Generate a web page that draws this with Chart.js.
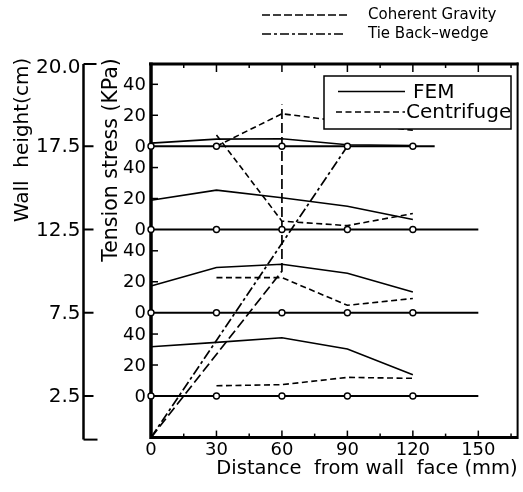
<!DOCTYPE html>
<html><head><meta charset="utf-8">
<script src="https://cdn.jsdelivr.net/npm/chart.js@4.4.1/dist/chart.umd.min.js"></script>
<style>html,body{margin:0;padding:0;background:#fff;overflow:hidden;}</style>
</head><body>
<canvas id="c" width="523" height="492"></canvas>
<script>
// ---- data ----
const distance = [0, 30, 60, 90, 120];                 // mm, FEM points / zero-line circles
const centrifugeDistance = [30, 60, 90, 120];          // mm
const panelWallHeight = [17.5, 12.5, 7.5, 2.5];        // cm, level of each stress panel's zero line
const zeroLineEnd = [130, 150, 150, 150];              // mm, where each zero line stops
const femAt175 = [2.0, 4.6, 4.8, 1.0, 0.5];            // kPa
const femAt125 = [18.9, 25.4, 20.5, 15.0, 6.5];
const femAt75  = [17.3, 29.2, 31.3, 25.5, 13.4];
const femAt25  = [31.8, 34.6, 37.6, 30.3, 13.7];
const centrifugeAt175 = [0.0, 21.0, 15.6, 10.3];
const centrifugeAt125 = [61.0, 5.4, 2.5, 10.3];
const centrifugeAt75  = [22.7, 22.7, 4.8, 9.2];
const centrifugeAt25  = [6.6, 7.3, 12.0, 11.4];
const coherentDistance = [0, 60, 60];                  // mm
const coherentHeight   = [0, 10, 20];                  // cm
const tiebackDistance  = [0, 90];
const tiebackHeight    = [0, 17.5];
const distanceTicks = [0, 30, 60, 90, 120, 150];
const distanceMinorTicks = [15, 45, 75, 105, 135, 165];
const wallTicks = [2.5, 7.5, 12.5, 17.5];
const wallTopLabel = '20.0';
const stressTicks = [0, 20, 40];

// ---- scale setup ----
const X_MAX = 168;
const WALL_MAX = 22.44;
const CM_PER_KPA = 0.093;
const FONT = '"DejaVu Sans", sans-serif';

const femSets = [femAt175, femAt125, femAt75, femAt25];
const cenSets = [centrifugeAt175, centrifugeAt125, centrifugeAt75, centrifugeAt25];

const datasets = [];
const scales = {
  x: {
    type: 'linear', min: 0, max: X_MAX, position: 'bottom',
    afterBuildTicks: s => { s.ticks = distanceTicks.map(v => ({ value: v })); },
    afterFit: s => { s.paddingLeft = 0; s.paddingRight = 0; },
    grid: { display: false, drawTicks: false },
    border: { display: true, width: 3, color: '#000' },
    ticks: { padding: 4, color: '#000', autoSkip: false, maxRotation: 0,
             font: { family: FONT, size: 18, lineHeight: 1 } },
    title: { display: true, text: 'Distance  from wall  face (mm)', color: '#000', align: 'end',
             font: { family: FONT, size: 19.5 }, padding: { top: -6, bottom: 6 } }
  },
  y: { type: 'linear', min: 0, max: WALL_MAX, display: false }
};

panelWallHeight.forEach((base, i) => {
  const id = 'p' + i;
  scales[id] = { type: 'linear', display: false,
                 min: (0 - base) / CM_PER_KPA, max: (WALL_MAX - base) / CM_PER_KPA };
  const zx = distance.concat([zeroLineEnd[i]]);
  datasets.push({
    label: 'zero' + i, yAxisID: id, order: 0, clip: false,
    data: zx.map(d => ({ x: d, y: 0 })),
    borderColor: '#000', borderWidth: 2.2,
    pointRadius: zx.map((d, k) => k < distance.length ? 3 : 0),
    pointBackgroundColor: '#fff', pointBorderColor: '#000', pointBorderWidth: 1.4
  });
  datasets.push({
    label: 'FEM' + i, yAxisID: id, order: 1, clip: false,
    data: distance.map((d, k) => ({ x: d, y: femSets[i][k] })),
    borderColor: '#000', borderWidth: 1.6, pointRadius: 0
  });
  datasets.push({
    label: 'Centrifuge' + i, yAxisID: id, order: 1, clip: false,
    data: centrifugeDistance.map((d, k) => ({ x: d, y: cenSets[i][k] })),
    borderColor: '#000', borderWidth: 1.6, borderDash: [6, 3.5], pointRadius: 0
  });
});
datasets.push({
  label: 'Coherent Gravity', yAxisID: 'y', order: 1, clip: false,
  data: coherentDistance.map((d, k) => ({ x: d, y: coherentHeight[k] })),
  borderColor: '#000', borderWidth: 1.7, borderDash: [10, 4], pointRadius: 0
});
datasets.push({
  label: 'Tie Back–wedge', yAxisID: 'y', order: 1, clip: false,
  data: tiebackDistance.map((d, k) => ({ x: d, y: tiebackHeight[k] })),
  borderColor: '#000', borderWidth: 1.7, borderDash: [10, 3, 3, 3], pointRadius: 0
});

function seg(ctx, x1, y1, x2, y2) { ctx.beginPath(); ctx.moveTo(x1, y1); ctx.lineTo(x2, y2); ctx.stroke(); }

const framePlugin = {
  id: 'framePlugin',
  beforeDatasetsDraw(chart) {
    const ctx = chart.ctx, a = chart.chartArea, xs = chart.scales.x;
    ctx.save();
    ctx.strokeStyle = '#000'; ctx.setLineDash([]);
    ctx.lineWidth = 3; seg(ctx, a.left - 2, a.top, a.right + 1, a.top);
    ctx.lineWidth = 2; seg(ctx, a.right, a.top - 1.5, a.right, a.bottom + 1.5);
    ctx.lineWidth = 3.5; seg(ctx, a.left, a.top - 1.5, a.left, a.bottom + 1.5);
    ctx.lineWidth = 1.5;
    distanceTicks.forEach(v => {
      if (v === 0) return;
      const px = xs.getPixelForValue(v);
      seg(ctx, px, a.bottom, px, a.bottom - 7);
      seg(ctx, px, a.top, px, a.top + 8);
    });
    distanceMinorTicks.forEach(v => {
      const px = xs.getPixelForValue(v);
      seg(ctx, px, a.bottom, px, a.bottom - 4);
      seg(ctx, px, a.top, px, a.top + 4);
    });
    // stress ticks on the plot's left axis
    panelWallHeight.forEach((b, i) => {
      const s = chart.scales['p' + i];
      stressTicks.forEach(t => {
        if (t === 0) return;
        const py = s.getPixelForValue(t);
        seg(ctx, a.left, py, a.left + 7, py);
      });
    });
    ctx.restore();
  },
  afterDraw(chart) {
    const ctx = chart.ctx, a = chart.chartArea, ys = chart.scales.y;
    ctx.save();
    ctx.strokeStyle = '#000'; ctx.fillStyle = '#000'; ctx.setLineDash([]);
    // stress tick labels
    ctx.font = '18px ' + FONT; ctx.textAlign = 'right'; ctx.textBaseline = 'middle';
    panelWallHeight.forEach((b, i) => {
      const s = chart.scales['p' + i];
      stressTicks.forEach(t => ctx.fillText(String(t), a.left - 5, s.getPixelForValue(t) + 1));
    });
    // stress title
    ctx.save();
    ctx.translate(117, 160); ctx.rotate(-Math.PI / 2);
    ctx.font = '20.5px ' + FONT; ctx.textAlign = 'center'; ctx.textBaseline = 'alphabetic';
    ctx.fillText('Tension stress (KPa)', 0, 0);
    ctx.restore();
    // wall height axis (bracket)
    const ax = 83.5, top = ys.top, bot = ys.bottom + 2;
    ctx.lineWidth = 2.5;
    seg(ctx, ax, top, ax, bot);
    ctx.lineWidth = 2;
    seg(ctx, ax, top, ax + 13, top);
    seg(ctx, ax, bot, ax + 14, bot);
    ctx.font = '20px ' + FONT; ctx.textAlign = 'right'; ctx.textBaseline = 'middle';
    wallTicks.forEach(v => {
      const py = ys.getPixelForValue(v);
      seg(ctx, ax, py, ax + 10, py);
      ctx.fillText(v.toFixed(1), ax - 3, py + 1);
    });
    ctx.fillText(wallTopLabel, ax - 3, top + 4);
    ctx.save();
    ctx.translate(28, 140); ctx.rotate(-Math.PI / 2);
    ctx.font = '20px ' + FONT; ctx.textAlign = 'center'; ctx.textBaseline = 'alphabetic';
    ctx.fillText('Wall  height(cm)', 0, 0);
    ctx.restore();
    // top legend
    ctx.lineWidth = 1.5;
    ctx.setLineDash([8, 3]); seg(ctx, 262, 15, 348, 15);
    ctx.setLineDash([9, 3, 3, 3]); seg(ctx, 262, 34, 345, 34);
    ctx.setLineDash([]);
    ctx.font = '15px ' + FONT; ctx.textAlign = 'left'; ctx.textBaseline = 'middle';
    ctx.fillText('Coherent Gravity', 368, 15);
    ctx.fillText('Tie Back–wedge', 368, 34);
    // boxed legend
    ctx.fillStyle = '#fff'; ctx.fillRect(324, 76, 187, 53); ctx.fillStyle = '#000';
    ctx.lineWidth = 1.5; ctx.strokeRect(324, 76, 187, 53);
    ctx.lineWidth = 1.5;
    seg(ctx, 338, 91.5, 405, 91.5);
    ctx.setLineDash([6, 3.5]); seg(ctx, 336, 112, 405, 112); ctx.setLineDash([]);
    ctx.font = '20px ' + FONT; ctx.textBaseline = 'middle';
    ctx.fillText('FEM', 413, 93);
    ctx.fillText('Centrifuge', 406, 113);
    ctx.restore();
  }
};

new Chart(document.getElementById('c'), {
  type: 'line',
  data: { datasets },
  options: {
    responsive: false, animation: false,
    layout: { padding: { left: 151, right: 2, top: 64, bottom: 5 } },
    elements: { line: { tension: 0 } },
    plugins: { legend: { display: false }, tooltip: { enabled: false } },
    scales
  },
  plugins: [framePlugin]
});
</script>
</body></html>
